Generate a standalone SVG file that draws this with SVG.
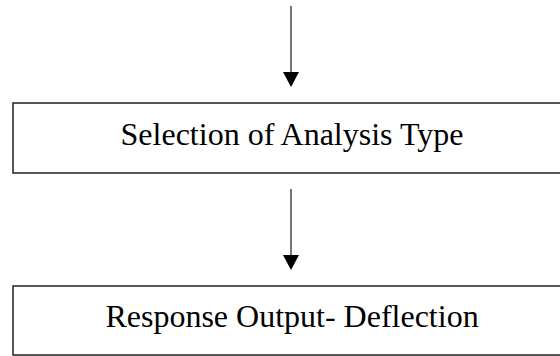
<svg xmlns="http://www.w3.org/2000/svg" width="560" height="356" viewBox="0 0 560 356">
<defs>
<style>
.box{fill:#fff;stroke:#222;stroke-width:1.5}
.lbl{font-family:"Liberation Serif","Times New Roman",serif;font-size:32px;fill:#000;text-anchor:middle}
.conn{stroke:#555;stroke-width:1.6;fill:none}
.head{fill:#000}
</style>
</defs>
<rect width="560" height="356" fill="#fff"/>
<g id="connectors">
<line class="conn" x1="291" y1="6" x2="291" y2="73"/>
<polygon class="head" points="283,72 299,72 291,87"/>
<line class="conn" x1="291" y1="189" x2="291" y2="256"/>
<polygon class="head" points="283,255 299,255 291,270"/>
</g>
<g id="node-analysis">
<rect class="box" x="13" y="103" width="570" height="70"/>
<text class="lbl" x="292" y="145">Selection of Analysis Type</text>
</g>
<g id="node-response">
<rect class="box" x="13" y="286" width="570" height="69"/>
<text class="lbl" x="292" y="327">Response Output- Deflection</text>
</g>
</svg>
